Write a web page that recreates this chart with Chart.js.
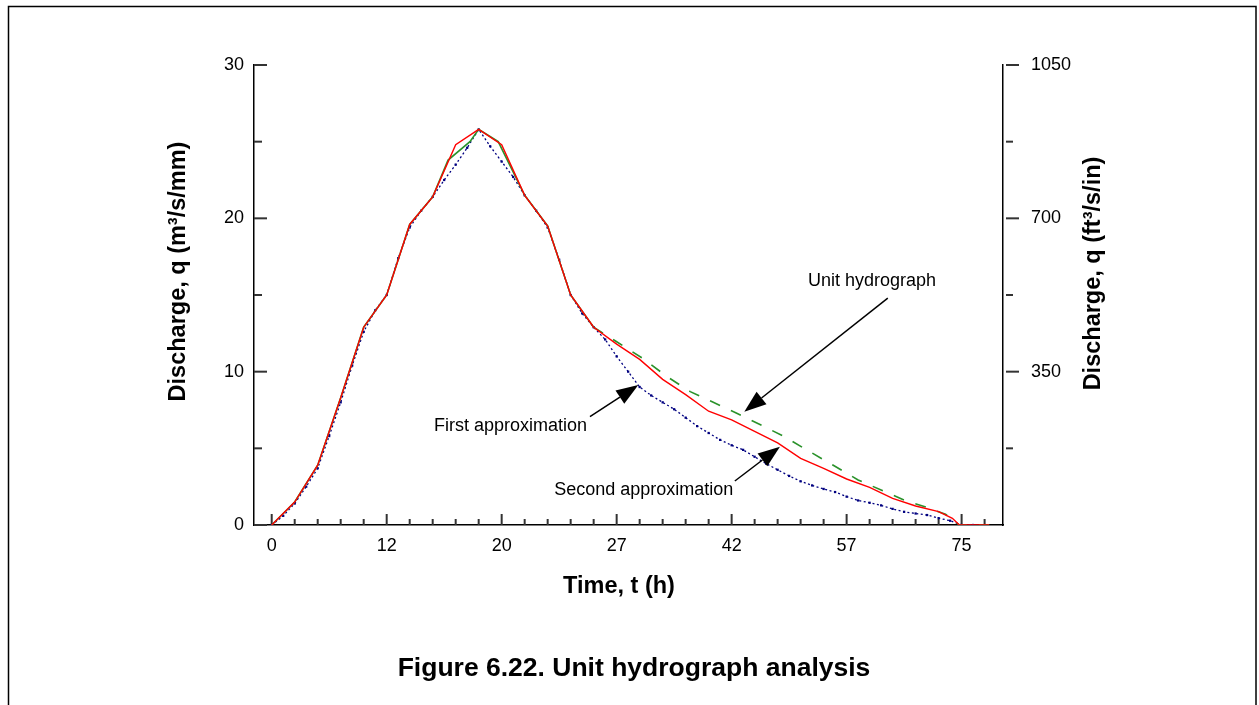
<!DOCTYPE html>
<html><head><meta charset="utf-8">
<script src="https://cdn.jsdelivr.net/npm/chart.js@4.4.0/dist/chart.umd.min.js"></script>
<style>html,body{margin:0;padding:0;background:#fff;}canvas{display:block;}</style>
</head><body>
<canvas id="c" width="1259" height="705"></canvas>
<script>
// ---- axis ticks ----
const xTickLabels = ['0','12','20','27','42','57','75'];
const xTickPositions = [0,1,2,3,4,5,6,7,8,9,10,11,12,13,14,15,16,17,18,19,20,21,22,23,24,25,26,27,28,29,30,31];
const yLeftTicks = [0,5,10,15,20,25,30];
const yRightTicks = [0,175,350,525,700,875,1050];

// ---- series (x in tick-position units, y in m3/s/mm) ----
const secondX = [0,1,2,3,4,5,6,7,8,9,10,11,12,13,14,15,16,17,18,19,20,21,22,23,24,25,26,27,28,29,29.6,29.9,31.2];
const secondY = [0,1.5,3.9,8.3,12.9,15.0,19.6,21.4,24.8,25.8,24.8,21.5,19.5,15.0,12.9,11.8,10.8,9.5,8.5,7.42,6.85,6.1,5.35,4.35,3.7,3.0,2.46,1.74,1.24,0.87,0.44,0,0];

const unitX = [0,1,2,3,4,5,6,7,7.67,8.62,9,9.85,11,12,13,14,15,16.1,17.2,18.2,19.2,20.2,21.3,22.3,23.4,24.4,25.5,26.5,27.5,28.6,29.3,29.9,31.2];
const unitY = [0,1.5,3.9,8.3,12.9,15.0,19.6,21.4,23.8,25.0,25.8,25.0,21.5,19.5,15.0,12.9,11.95,10.9,9.67,8.7,8.0,7.3,6.5,5.76,4.78,3.91,2.94,2.28,1.63,1.09,0.7,0,0];

const firstX = [0,0.5,1,1.5,2,2.5,3,3.5,4,4.5,5,5.5,6,6.5,7,7.5,8,8.5,9,9.5,10,10.5,11,11.5,12,12.5,13,13.5,14,14.5,15,15.5,16,16.5,17,17.5,18,18.5,19,19.5,20,20.5,21,21.5,22,22.5,23,23.5,24,24.5,25,25.5,26,26.5,27,27.5,28,28.5,29,29.5,30,30.5];
const firstY = [0,0.6,1.4,2.5,3.7,5.8,8.0,10.4,12.6,14.0,15.0,17.4,19.4,20.5,21.4,22.5,23.5,24.6,25.8,24.7,23.7,22.7,21.5,20.5,19.4,17.3,15.0,13.8,12.9,12.1,11.0,10.0,9.0,8.45,8.0,7.55,7.0,6.45,6.0,5.55,5.2,4.9,4.45,4.0,3.6,3.2,2.85,2.58,2.35,2.15,1.85,1.6,1.45,1.28,1.05,0.86,0.75,0.65,0.45,0.28,0,0];

// ---- annotations (data units) ----
const notes = [
  {text:'First approximation', at:[13.71,6.15], align:'right', from:[13.84,7.06], to:[15.94,9.13]},
  {text:'Second approximation', at:[20.07,1.96], align:'right', from:[20.14,2.87], to:[22.10,5.11]},
  {text:'Unit hydrograph', at:[26.1,15.59], align:'center', from:[26.79,14.8], to:[20.55,7.39]}
];

const FONT = "'Liberation Sans', Arial, Helvetica, sans-serif";
const pts = (xs, ys) => xs.map((x, i) => ({x, y: ys[i]}));

function arrow(ctx, x0, y0, x1, y1) {
  const dx = x1 - x0, dy = y1 - y0, L = Math.hypot(dx, dy);
  const ux = dx / L, uy = dy / L, hl = 22, hw = 8;
  const bx = x1 - ux * hl, by = y1 - uy * hl;
  ctx.beginPath(); ctx.moveTo(x0, y0); ctx.lineTo(bx, by); ctx.stroke();
  ctx.beginPath(); ctx.moveTo(x1, y1);
  ctx.lineTo(bx - uy * hw, by + ux * hw);
  ctx.lineTo(bx + uy * hw, by - ux * hw);
  ctx.closePath(); ctx.fill();
}

const decor = {
  id: 'decor',
  beforeDraw(chart) {
    const ctx = chart.ctx;
    ctx.save();
    ctx.strokeStyle = '#000'; ctx.lineWidth = 1.5;
    ctx.strokeRect(8.5, 6.5, 1247.5, 730);
    ctx.restore();
  },
  beforeDatasetsDraw(chart) {
    const {ctx, chartArea: ca, scales: {x, y, y2}} = chart;
    ctx.save();
    ctx.strokeStyle = '#333'; ctx.lineWidth = 2;
    const seg = (a, b, c, d) => { ctx.beginPath(); ctx.moveTo(a, b); ctx.lineTo(c, d); ctx.stroke(); };
    x.ticks.forEach(t => {
      const px = x.getPixelForValue(t.value);
      seg(px, ca.bottom, px, ca.bottom - (t.value % 5 === 0 ? 11 : 6));
    });
    y.ticks.forEach(t => {
      const py = y.getPixelForValue(t.value);
      seg(ca.left, py, ca.left + (t.value % 10 === 0 ? 13 : 8), py);
    });
    y2.ticks.forEach(t => {
      if (t.value === 0) return;
      const py = y2.getPixelForValue(t.value);
      seg(ca.right + 3, py, ca.right + (t.value % 350 === 0 ? 16 : 10), py);
    });
    ctx.restore();
  },
  afterDraw(chart) {
    const {ctx, scales: {x, y}} = chart;
    ctx.save();
    ctx.fillStyle = '#000'; ctx.strokeStyle = '#000'; ctx.lineWidth = 1.5;
    // axis titles
    ctx.font = 'bold 23.5px ' + FONT;
    ctx.textAlign = 'center'; ctx.textBaseline = 'alphabetic';
    ctx.fillText('Time, t (h)', 619, 592.5);
    ctx.save(); ctx.translate(185, 271.5); ctx.rotate(-Math.PI / 2);
    ctx.fillText('Discharge, q (m\u00B3/s/mm)', 0, 0); ctx.restore();
    ctx.save(); ctx.translate(1100, 273.5); ctx.rotate(-Math.PI / 2);
    ctx.fillText('Discharge, q (ft\u00B3/s/in)', 0, 0); ctx.restore();
    // caption
    ctx.font = 'bold 26.5px ' + FONT;
    ctx.fillText('Figure 6.22. Unit hydrograph analysis', 634, 676);
    // annotations
    ctx.font = '18px ' + FONT;
    notes.forEach(n => {
      ctx.textAlign = n.align;
      ctx.fillText(n.text, x.getPixelForValue(n.at[0]), y.getPixelForValue(n.at[1]));
      arrow(ctx, x.getPixelForValue(n.from[0]), y.getPixelForValue(n.from[1]),
                 x.getPixelForValue(n.to[0]), y.getPixelForValue(n.to[1]));
    });
    ctx.restore();
  }
};

const tickFont = {family: FONT, size: 18};

new Chart(document.getElementById('c'), {
  type: 'line',
  data: {
    datasets: [
      {label: 'Second approximation', data: pts(secondX, secondY), borderColor: '#ff0000', borderWidth: 1.4,
       pointRadius: 0, tension: 0, order: 0},
      {label: 'Unit hydrograph', data: pts(unitX, unitY), borderColor: '#2a922a', borderWidth: 1.6,
       pointRadius: 0, tension: 0, order: 1,
       segment: {borderDash: c => c.p0.parsed.x >= 14 ? [11, 12] : undefined}},
      {label: 'First approximation', data: pts(firstX, firstY), borderColor: '#000080', borderWidth: 1.3,
       borderDash: [2, 2.5], pointStyle: 'rect', pointRadius: 1.6, pointBackgroundColor: '#000080',
       pointBorderWidth: 0, tension: 0, order: 2}
    ]
  },
  options: {
    responsive: false, animation: false, devicePixelRatio: 1, events: [],
    layout: {padding: {left: 150, right: 156, top: 65, bottom: 140}},
    plugins: {legend: {display: false}, tooltip: {enabled: false}},
    scales: {
      x: {type: 'linear', position: 'bottom', min: -0.77, max: 31.8,
          afterBuildTicks: s => { s.ticks = xTickPositions.map(v => ({value: v})); },
          afterFit: s => { s.height = 40; },
          grid: {display: false, drawTicks: false},
          border: {display: true, color: '#000', width: 1.5},
          ticks: {autoSkip: false, maxRotation: 0, minRotation: 0, padding: 10, font: tickFont, color: '#000',
                  callback: v => (v % 5 === 0 ? xTickLabels[v / 5] : '')},
          title: {display: false}},
      y: {type: 'linear', position: 'left', min: 0, max: 30,
          afterBuildTicks: s => { s.ticks = yLeftTicks.map(v => ({value: v})); },
          afterFit: s => { s.width = 104; },
          grid: {display: false, drawTicks: false},
          border: {display: true, color: '#000', width: 1.5},
          ticks: {padding: 10, font: tickFont, color: '#000',
                  callback: v => (v % 10 === 0 ? String(v) : '')},
          title: {display: false}},
      y2: {type: 'linear', position: 'right', min: 0, max: 1050,
           afterBuildTicks: s => { s.ticks = yRightTicks.map(v => ({value: v})); },
           afterFit: s => { s.width = 100; },
           grid: {display: false, drawTicks: false},
           border: {display: true, color: '#000', width: 1.5},
           ticks: {padding: 28, font: tickFont, color: '#000',
                   callback: v => (v !== 0 && v % 350 === 0 ? String(v) : '')},
           title: {display: false}}
    }
  },
  plugins: [decor]
});
</script>
</body></html>
